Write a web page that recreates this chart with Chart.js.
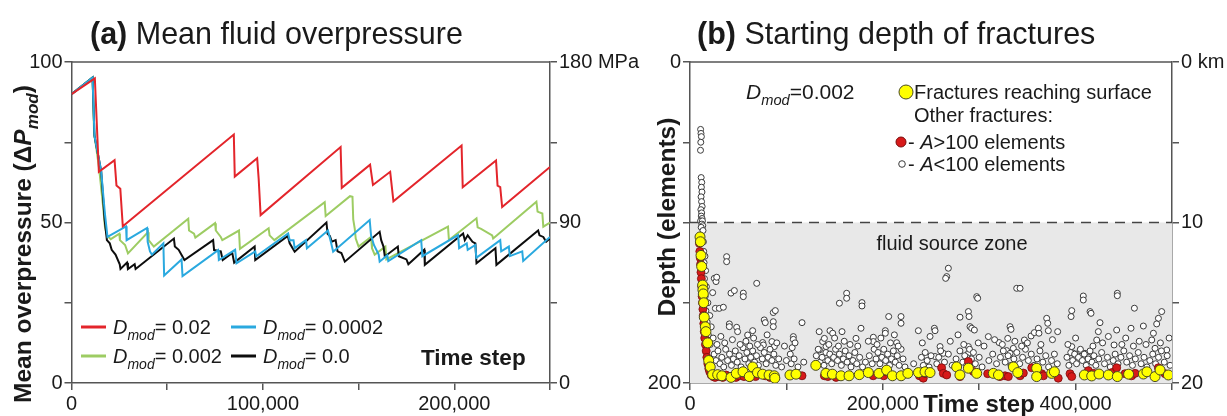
<!DOCTYPE html>
<html><head><meta charset="utf-8">
<script src="https://cdn.jsdelivr.net/npm/chart.js@4.4.1/dist/chart.umd.min.js"></script>
<style>
html,body{margin:0;padding:0;background:#fff;}
#wrap{position:relative;width:1227px;height:416px;overflow:hidden;background:#fff;}
#ca{position:absolute;left:0;top:0;}
#cb{position:absolute;left:620px;top:0;}
</style></head><body>
<div id="wrap">
<canvas id="ca" width="660" height="416"></canvas>
<canvas id="cb" width="607" height="416"></canvas>
</div>
<script>
// ---------- Panel (a) data: [time step, mean overpressure] ----------
const redSeries = [[0,90],[12200,94.9],[14300,65.8],[22500,69.4],[23500,61.5],[25500,60.5],[26800,48.8],[84800,77.4],[85300,64.3],[97000,70],[97800,63.5],[98800,52.3],[140600,73.5],[141200,60.8],[156000,68],[157500,61.7],[166500,65.8],[168200,56.6],[203800,74],[204400,61],[221800,69.3],[222600,61.5],[224000,61],[225000,54.8],[250000,67.3]];
const greenSeries = [[0,90],[11000,95.2],[11800,78],[13000,73],[14500,66.5],[16500,55],[17500,48.5],[18500,46],[20500,44.8],[25000,46.5],[25300,44.5],[28000,43],[29500,40.4],[40000,47],[40300,44.5],[43000,42.5],[61000,51.2],[61400,47.5],[64000,46.5],[64700,45.3],[75000,49.8],[75400,47.5],[78000,45.5],[78800,44.5],[87500,47.5],[88000,41.8],[103000,48.2],[103500,46],[106000,44.5],[132300,56.3],[132800,52],[145500,58.2],[146800,58],[147200,51],[148000,48],[148500,45],[150000,42.5],[156500,45.5],[157000,42],[158400,40],[164000,42.5],[164500,38.5],[196700,48.7],[197200,44.5],[211600,51.3],[212200,48.5],[214000,48],[219800,46],[220300,45],[242900,56.5],[243500,53.4],[246000,52.8],[246500,48.7],[250000,50]];
const blueSeries = [[0,90],[11000,95.2],[12000,77],[15500,66],[17500,52.5],[18800,45.5],[28500,48.8],[28800,44.5],[39500,48.3],[39800,44],[41000,41],[42000,40],[48000,43.5],[48400,33.5],[57500,38.5],[58000,33.3],[76600,41.4],[77000,38.3],[85500,41.5],[86200,37.3],[96000,41],[96500,39.5],[113200,46.6],[114000,44.5],[116000,44.5],[116600,42],[122500,44.5],[123000,42],[134000,47.5],[135500,44],[136700,40.9],[155800,50.8],[156500,46],[158000,43],[160500,40],[161000,37.8],[165000,39.8],[165500,38],[182700,44.5],[183300,39.5],[202000,46.1],[202500,42],[206500,43.5],[207000,41.5],[211000,43],[211500,39],[224000,44.5],[224500,41],[228500,42.5],[229000,39.5],[235500,41],[236000,38],[250000,45.5]];
const blackSeries = [[0,90],[11000,95.2],[12000,77],[15500,66],[17300,51],[18500,44.5],[20000,43.5],[21000,41.5],[23000,40],[25200,37],[25600,35.5],[29000,37.5],[29500,35.5],[33000,37],[33500,35.5],[53500,45],[54000,42.5],[56000,41.5],[59000,38.3],[74000,44.5],[74500,41.4],[78000,41],[79000,38.3],[84000,40.5],[85000,37.5],[95700,42.5],[96000,38.3],[113000,45.8],[114000,43.5],[116600,40.9],[133200,50],[133800,46.5],[135000,45.8],[136000,44],[138000,44.5],[139000,41],[141000,40.5],[142800,37.8],[161000,47.1],[161800,44.5],[163000,42.5],[163700,39.4],[170500,42.5],[171000,39.5],[175000,38.5],[176000,37],[184300,41.5],[184600,36.8],[204600,46.6],[205500,44.5],[207000,46],[209500,44],[211000,43.5],[211600,37.3],[221500,42],[222000,36.8],[243800,47.5],[244500,46],[246500,45.5],[248000,44],[250000,45]];
const seriesLabelsA = ['0.02','0.0002','0.002','0.0'];
const xLabelValsA = [0,100000,200000];
const yLabelValsA = [0,50,100];
const yRightValsA = [0,50,100];
const yRightTextA = ['0','90','180 MPa'];

// ---------- Panel (b) data: [time step, depth (elements)] ----------
const surfaceFractures = [[10400,109],[10800,112],[11400,120.5],[12100,127.4],[13100,139],[13400,142],[13800,144.5],[14200,150],[14800,159],[15900,165],[16500,168],[18300,175],[19400,186],[21000,190],[23500,194.8],[28700,194.8],[33000,195.5],[42500,196.5],[48000,194],[55000,193],[61500,196],[65000,190],[70000,193.5],[75300,194.5],[82000,195],[87400,195.5],[88000,197],[103700,195],[110000,194.5],[130500,189],[141000,194],[147700,194.5],[156600,195.5],[165000,195.5],[175600,194.8],[185000,193.5],[196000,194],[204000,192],[210000,195.5],[219000,195.5],[226000,194],[237000,193.5],[243800,193],[249000,193.5],[276600,190],[280000,195],[288800,190.8],[297400,194],[314700,194],[320000,195],[335400,190],[340000,193.5],[359600,190.8],[359600,196],[375200,194],[378000,193],[409100,195],[416700,195.6],[424300,194.4],[434000,195],[443300,196],[455000,194.5],[470300,194.4],[474000,193],[482400,196],[487600,191.9],[496200,195]];
const largeFractures = [[9800,113],[10200,118],[10600,122],[11000,126],[11400,131],[11800,135],[12200,140],[12600,146],[13000,150],[13400,154],[13800,158],[14300,163],[14800,168],[15300,172],[16000,176],[16800,180],[17500,184],[18500,188],[19500,191],[20500,193],[22000,195],[24000,196],[26000,196.5],[30400,196],[34000,196.5],[37300,195],[41000,196],[47700,196.5],[51000,195.5],[56000,196],[62000,196.5],[68000,196],[78000,195.5],[83000,196.5],[116200,195.5],[139400,195.5],[143000,196],[151500,196.5],[190000,195.5],[201000,195.5],[203000,193],[238000,195.5],[242000,197],[243800,194],[261000,190.5],[262800,194],[266300,195],[280100,196],[288800,186.6],[288800,190.8],[294000,192.8],[308800,194.2],[321600,196],[326800,195.5],[330200,196],[342400,195.5],[345800,193.8],[354500,190.5],[364800,194.2],[366600,195.5],[382000,197],[394200,194.2],[396000,196],[413200,192.3],[418600,194],[437700,193.5],[442600,190.5],[451300,194.2],[458200,195.5],[461700,194],[485900,190.5],[492800,194.2]];
const smallFractures = [[11000,42],[11400,44.5],[11800,46.5],[11200,50],[10900,55],[11600,72],[12200,75],[11800,78],[12400,81],[11500,84],[12000,87],[12600,90],[11300,92],[12100,94],[11700,96],[12500,97.5],[11000,99],[12900,99],[12300,101],[13200,102],[11600,103],[13500,105],[13900,112],[14200,118],[15500,121],[14600,125],[16200,130],[15000,135],[17000,140],[15800,146],[18500,150],[16500,155],[20500,158],[17800,162],[22000,165],[19000,170],[24000,172],[21000,176],
[38000,121.3],[38000,124.4],[25200,134.8],[27000,136.8],[27700,134.1],[23500,143.7],[42500,144],[46000,142.4],[55300,144],[55300,146.2],[69200,137.9],[26300,153.5],[30400,153.5],[34600,152.8],[40800,163.2],[40800,164.9],[48400,165.3],[49400,168],[59800,170.1],[65000,167.4],[77000,160.7],[78100,162.4],[86400,156.1],[88500,154.9],[86400,161.8],[86400,164.9],[75400,174.8],[76100,176.3],[85000,174.2],[87500,177.3],[107200,171.1],[107200,172.8],[116200,162.4],[155000,150.3],[162500,144.1],[162500,147.2],[178400,149.9],[178400,152],[145200,167.4],[148000,169],[157700,168],[172200,172.2],[177400,165.9],[137600,174.2],[139400,172.2],[141100,177.3],[134200,179.4],[190200,171.5],[190200,174.2],[202600,167.4],[202600,169],[206100,158.6],[218900,158.6],[218900,162.8],[214400,174.9],[236900,167.4],
[268000,128.5],[266300,133.7],[265200,134.8],[297400,146.2],[298400,147.2],[288800,155.5],[289500,158.6],[280100,159],[253500,165.9],[254200,167.4],[290500,164.9],[292200,165.9],[295000,167],[309500,171.1],[320600,174.8],[329600,172.2],[332000,164.9],[333000,166.6],[338900,141],[342400,141],[346900,173.2],[353800,170.7],[357200,168.6],[361400,165.9],[362000,169],[370000,159.7],[371100,162.8],[371700,167.4],[381400,168],[395300,158.6],[396000,154.9],[408000,145.8],[408000,148.3],[415000,155.5],[416000,156.6],[425300,162.4],[423600,168],[421900,173.2],[443300,144.1],[443300,145.6],[442600,167],[439900,176.3],[461000,153.4],[457500,165.9],[470300,164.5],[485900,159.7],[489300,155.5],[484100,163.2],[480700,169],[479000,173.2],[482400,178.4],[494500,179.4],[396000,177.3],[397700,181.5],[404600,179.8],[409800,181.5],[413200,184],[328500,179.8],[332000,181.5],[335400,178.4],[288800,177.3],[288800,181.5],[287000,184],[259400,177.3],[262800,181.5],[254200,183.5],[245500,183.5],
[25000,182],[27000,186],[29000,180],[31000,188],[33000,184],[35000,190],[37000,179],[39000,186],[41000,182],[43000,189],[45000,185],[47000,180],[49000,187],[51000,183],[53000,190],[55000,178],[57000,185],[59000,181],[61000,188],[63000,184],[65000,180],[67000,187],[69000,183],[71000,189],[73000,178],[75000,185],[77000,181],[79000,188],[81000,184],[83000,179],[85000,186],[87000,182],[89000,189],[92000,185],[95000,190],[100000,186],[104000,182],[105000,188],[106000,178],[108000,185],[112000,190],[118000,187],
[131000,183],[133000,179],[135000,187],[137000,184],[139000,189],[141000,181],[143000,186],[145000,182],[147000,188],[149000,184],[151000,179],[153000,186],[155000,182],[157000,189],[159000,185],[161000,180],[163000,187],[165000,183],[167000,190],[169000,186],[171000,181],[173000,188],[176000,184],[179000,190],[182000,187],[186000,183],[189000,188],[191000,179],[193000,185],[195000,181],[197000,188],[199000,184],[201000,179],[203000,186],[205000,182],[207000,189],[209000,185],[211000,180],[213000,187],[215000,183],[217000,189],[219000,179],[221000,185],[223000,190],[232000,188],
[240000,184],[242000,189],[244000,181],[246000,186],[248000,190],[250000,183],[256000,188],[258000,184],[260000,180],[264000,187],[268000,182],[272000,189],[276000,185],[280000,180],[283000,187],[285000,183],[287000,189],[290000,179],[292000,185],[294000,181],[296000,188],[300000,184],[303000,190],[310000,186],[314000,182],[318000,188],[322000,184],[325000,180],[327000,187],[330000,183],[333000,189],[336000,185],[339000,181],[342000,188],[345000,184],[348000,179],[351000,186],[354000,182],[357000,189],[360000,185],[363000,180],[366000,187],[369000,183],[372000,190],[375000,186],[378000,182],[381000,188],
[391000,184],[393000,189],[395000,181],[397000,186],[399000,182],[401000,188],[403000,184],[405000,179],[407000,186],[409000,182],[411000,189],[413000,185],[415000,180],[417000,187],[419000,183],[421000,189],[424000,185],[427000,181],[430000,188],[433000,184],[436000,190],[439000,186],[441000,182],[444000,188],[447000,184],[450000,180],[453000,187],[456000,183],[459000,189],[462000,185],[465000,181],[468000,188],[471000,184],[474000,190],[477000,186],[480000,182],[483000,188],[486000,184],[489000,180],[492000,187],[495000,183],[498000,189],
[28000,176],[32000,171],[36000,175],[44000,173],[52000,176],[58000,174],[62000,177],[66000,172],[70000,176],[80000,170],[90000,175],[98000,177],[109000,175],[134000,168],[144000,176],[150000,172],[154000,177],[160000,174],[166000,176],[174000,177],[185000,174],[194000,176],[198000,172],[208000,175],[212000,170],[216000,177],[241000,175],[249000,171],[270000,174],[278000,170],[284000,176],[299000,175],[305000,177],[316000,173],[324000,176],[337000,174],[344000,177],[350000,175],[364000,176],[376000,173],[392000,176],[400000,172],[418000,177],[428000,175],[434000,171],[448000,176],[452000,172],[460000,177],[466000,174],[473000,176],[488000,175],[497000,172]];
const sourceZone = [100,200];
const xLabelValsB = [0,200000,400000];
const yLabelValsB = [0,200];
const yRightValsB = [0,10,20];
const yRightTextB = ['0 km','10','20'];

// ---------- helpers ----------
const SANS = "'Liberation Sans', Arial, Helvetica, sans-serif";
const AXIS = '#555555';
const TXT = '#1a1a1a';
const toXY = a => a.map(p => ({x:p[0], y:p[1]}));
const fmt = v => v.toLocaleString('en-US');

function fontFor(p, size){
  const s = p.sub ? size*0.7 : size;
  return (p.i?'italic ':'') + (p.b?'bold ':'') + s.toFixed(1) + 'px ' + SANS;
}
function rich(ctx, x, y, parts, size, align){
  ctx.save();
  ctx.textBaseline = 'alphabetic';
  ctx.textAlign = 'left';
  ctx.fillStyle = TXT;
  const ws = parts.map(p => { ctx.font = fontFor(p,size); return ctx.measureText(p.t).width + (p.kern||0); });
  const total = ws.reduce((a,b)=>a+b,0);
  let cx = align==='center' ? x - total/2 : x;
  parts.forEach((p,i) => {
    ctx.font = fontFor(p,size);
    ctx.fillText(p.t, cx, y + (p.sub ? size*0.3 : 0));
    cx += ws[i];
  });
  ctx.restore();
}
function axisCommon(min, max, step, pos, labelFn, reverse){
  return {
    type:'linear', min, max, position:pos, reverse:!!reverse,
    ticks:{stepSize:step, autoSkip:false, maxRotation:0, color:TXT, font:{family:SANS, size:20}, padding:2, callback:labelFn},
    grid:{drawOnChartArea:false, drawTicks:true, tickLength:7, color:AXIS, lineWidth:1.5},
    border:{display:true, color:AXIS, width:1.5}
  };
}

// ---------- Panel (a) ----------
const decorA = {
  id:'decorA',
  afterDraw(chart){
    const {ctx, chartArea:ca} = chart;
    ctx.save();
    ctx.strokeStyle = AXIS; ctx.lineWidth = 1.5;
    ctx.beginPath(); ctx.moveTo(ca.left, ca.top); ctx.lineTo(ca.right, ca.top); ctx.stroke();
    ctx.restore();
    rich(ctx, 90, 44, [{t:'(a)', b:true},{t:' Mean fluid overpressure'}], 30.5);
    ctx.save(); ctx.translate(31, 244); ctx.rotate(-Math.PI/2);
    rich(ctx, 0, 0, [{t:'Mean overpressure (\u0394', b:true},{t:'P', b:true, i:true},{t:'mod', b:true, i:true, sub:true},{t:')', b:true}], 24.5, 'center');
    ctx.restore();
    rich(ctx, 421, 365, [{t:'Time step', b:true}], 22.5);
    const items = [[81,327,chart.data.datasets[0].borderColor,seriesLabelsA[0]],[231,327,chart.data.datasets[1].borderColor,seriesLabelsA[1]],
                   [81,356,chart.data.datasets[3].borderColor,seriesLabelsA[2]],[231,356,chart.data.datasets[2].borderColor,seriesLabelsA[3]]];
    items.forEach(([x,y,c,lab]) => {
      ctx.save(); ctx.strokeStyle=c; ctx.lineWidth=3;
      ctx.beginPath(); ctx.moveTo(x,y); ctx.lineTo(x+25,y); ctx.stroke(); ctx.restore();
      rich(ctx, x+32, y+7, [{t:'D', i:true},{t:'mod', i:true, sub:true},{t:'= '+lab}], 20);
    });
  }
};
new Chart(document.getElementById('ca'), {
  type:'line',
  data:{datasets:[
    {label:'Dmod = 0.02', data:toXY(redSeries), borderColor:'#e3252b', borderWidth:2, pointRadius:0, tension:0},
    {label:'Dmod = 0.0002', data:toXY(blueSeries), borderColor:'#2aa9df', borderWidth:2, pointRadius:0, tension:0},
    {label:'Dmod = 0.0', data:toXY(blackSeries), borderColor:'#0d0d0d', borderWidth:2, pointRadius:0, tension:0},
    {label:'Dmod = 0.002', data:toXY(greenSeries), borderColor:'#9dcc63', borderWidth:2, pointRadius:0, tension:0}
  ]},
  options:{
    responsive:false, animation:false,
    layout:{padding:{top:62, left:0, right:0, bottom:0}},
    plugins:{legend:{display:false}, tooltip:{enabled:false}, title:{display:false}},
    scales:{
      x:Object.assign(axisCommon(0,250000,50000,'bottom', v => xLabelValsA.includes(v) ? fmt(v) : ''), {afterFit(s){s.height=33;}}),
      y:Object.assign(axisCommon(0,100,25,'left', v => yLabelValsA.includes(v) ? String(v) : ''), {afterFit(s){s.width=71.5;}}),
      yR:Object.assign(axisCommon(0,100,25,'right', v => { const i=yRightValsA.indexOf(v); return i>=0 ? yRightTextA[i] : ''; }), {afterFit(s){s.width=110;}})
    }
  },
  plugins:[decorA]
});

// ---------- Panel (b) ----------
const decorB = {
  id:'decorB',
  beforeDatasetsDraw(chart){
    const {ctx, chartArea:ca, scales} = chart;
    const y0 = scales.y.getPixelForValue(sourceZone[0]);
    const y1 = scales.y.getPixelForValue(sourceZone[1]);
    ctx.save();
    ctx.fillStyle = '#e8e8e8';
    ctx.fillRect(ca.left, y0, ca.right-ca.left, y1-y0);
    ctx.strokeStyle = '#444'; ctx.lineWidth = 1.5; ctx.setLineDash([10,7]);
    ctx.beginPath(); ctx.moveTo(ca.left, y0); ctx.lineTo(ca.right, y0); ctx.stroke();
    ctx.restore();
    rich(ctx, 332, 250, [{t:'fluid source zone'}], 20, 'center');
  },
  afterDraw(chart){
    const {ctx, chartArea:ca} = chart;
    ctx.save();
    ctx.strokeStyle = AXIS; ctx.lineWidth = 1.5;
    ctx.beginPath(); ctx.moveTo(ca.left, ca.top); ctx.lineTo(ca.right, ca.top); ctx.stroke();
    ctx.restore();
    rich(ctx, 77, 44, [{t:'(b)', b:true},{t:' Starting depth of fractures'}], 30.5);
    ctx.save(); ctx.translate(55, 217); ctx.rotate(-Math.PI/2);
    rich(ctx, 0, 0, [{t:'Depth (elements)', b:true}], 24.5, 'center');
    ctx.restore();
    rich(ctx, 359, 412, [{t:'Time step', b:true}], 24, 'center');
    rich(ctx, 126, 99, [{t:'D', i:true},{t:'mod', i:true, sub:true},{t:'=0.002'}], 21);
    const ds = chart.data.datasets;
    const dot = (x,y,r,d) => { ctx.save(); ctx.beginPath(); ctx.arc(x,y,r,0,Math.PI*2); ctx.fillStyle=d.backgroundColor; ctx.fill(); ctx.lineWidth=1; ctx.strokeStyle=d.borderColor; ctx.stroke(); ctx.restore(); };
    dot(286,92,7,ds[0]);
    rich(ctx, 294, 99, [{t:'Fractures reaching surface'}], 20);
    rich(ctx, 294, 122, [{t:'Other fractures:'}], 20);
    dot(281,142,5,ds[1]);
    rich(ctx, 288, 149, [{t:'- '},{t:'A', i:true},{t:'>100 elements'}], 20);
    dot(282,164,3.3,ds[2]);
    rich(ctx, 288, 171, [{t:'- '},{t:'A', i:true},{t:'<100 elements'}], 20);
  }
};
new Chart(document.getElementById('cb'), {
  type:'scatter',
  data:{datasets:[
    {label:'Fractures reaching surface', data:toXY(surfaceFractures), backgroundColor:'#ffff00', borderColor:'#4a4a20', borderWidth:1, pointRadius:5},
    {label:'A>100 elements', data:toXY(largeFractures), backgroundColor:'#d71a1a', borderColor:'#7a0b0b', borderWidth:0.8, pointRadius:4},
    {label:'A<100 elements', data:toXY(smallFractures), backgroundColor:'#ffffff', borderColor:'#3a3a3a', borderWidth:1, pointRadius:3}
  ]},
  options:{
    responsive:false, animation:false,
    layout:{padding:{top:62, left:0, right:0, bottom:0}},
    plugins:{legend:{display:false}, tooltip:{enabled:false}, title:{display:false}},
    scales:{
      x:Object.assign(axisCommon(0,500000,100000,'bottom', v => xLabelValsB.includes(v) ? fmt(v) : ''), {afterFit(s){s.height=33;}}),
      y:Object.assign(axisCommon(0,200,50,'left', v => yLabelValsB.includes(v) ? String(v) : '', true), {afterFit(s){s.width=70;}}),
      yR:Object.assign(axisCommon(0,20,5,'right', v => { const i=yRightValsB.indexOf(v); return i>=0 ? yRightTextB[i] : ''; }, true), {afterFit(s){s.width=55;}})
    }
  },
  plugins:[decorB]
});
</script>
</body></html>
